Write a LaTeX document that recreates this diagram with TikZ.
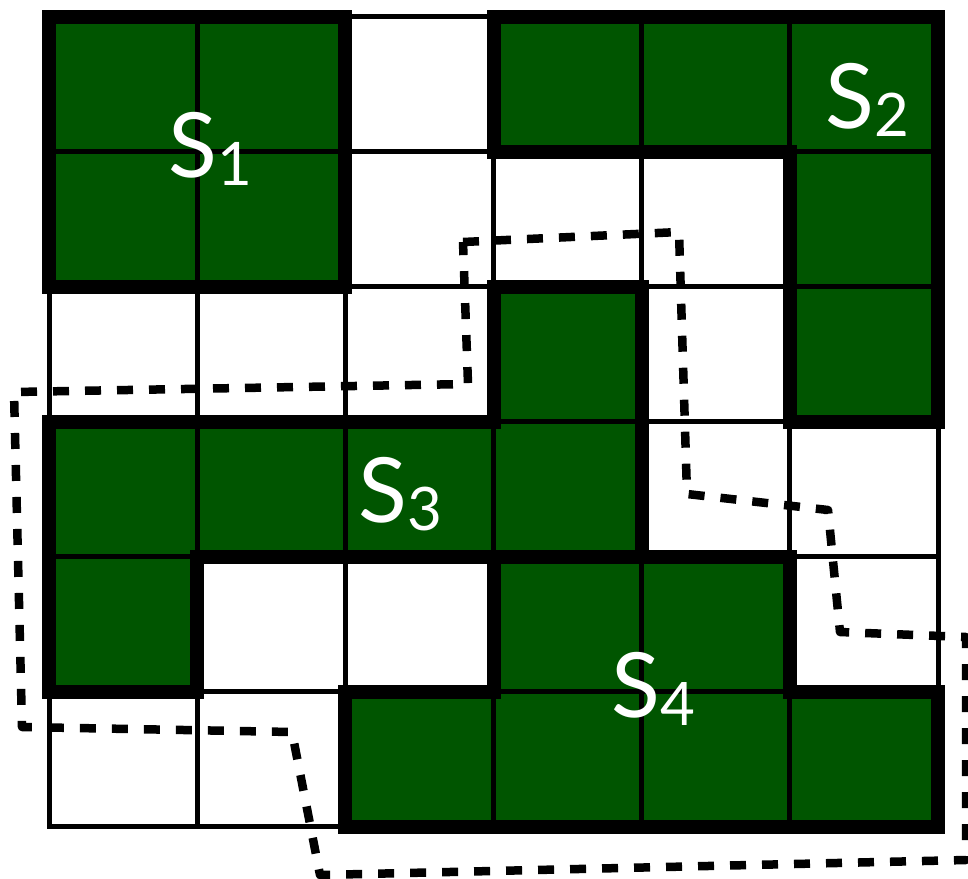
\documentclass[tikz,border=0pt]{standalone}
\usepackage{fontspec}
\setmainfont{Lato}
\definecolor{cellgreen}{RGB}{0,85,0}
\newcommand{\mysub}[1]{\raisebox{-8pt}{\fontsize{60}{60}\selectfont #1}}
\begin{document}
\begin{tikzpicture}[x=1pt,y=-1pt,
  gridline/.style={line width=5pt, line cap=rect},
  region/.style={line width=14pt, line cap=rect, line join=miter},
  cut/.style={line width=8.5pt, dash pattern=on 16pt off 16pt, line join=round},
  lab/.style={text=white, inner sep=0pt, anchor=base west, font=\fontsize{90}{90}\selectfont}]
\useasboundingbox (0,0) rectangle (968,878);
\begin{scope}[shift={(49,16.5)}, x=148.17pt, y=-135.08pt]
  % green cells
  \foreach \c/\r in {0/0,1/0,3/0,4/0,5/0,0/1,1/1,5/1,3/2,5/2,0/3,1/3,2/3,3/3,0/4,3/4,4/4,2/5,3/5,4/5,5/5}
    \fill[cellgreen] (\c,\r) rectangle ++(1,1);
  % thin grid
  \foreach \i in {0,...,6} {
    \draw[gridline] (\i,0) -- (\i,6);
    \draw[gridline] (0,\i) -- (6,\i);
  }
  % region borders
  \draw[region] (0,0) rectangle (2,2);
  \draw[region] (3,0) -- (6,0) -- (6,3) -- (5,3) -- (5,1) -- (3,1) -- cycle;
  \draw[region] (3,2) -- (4,2) -- (4,4) -- (1,4) -- (1,5) -- (0,5) -- (0,3) -- (3,3) -- cycle;
  \draw[region] (3,4) -- (5,4) -- (5,5) -- (6,5) -- (6,6) -- (2,6) -- (2,5) -- (3,5) -- cycle;
\end{scope}
% dashed cut
\draw[cut] (463,242) -- (679,232) -- (687,494) -- (828,510) -- (840,632) -- (966,637)
  -- (966,860) -- (320,875) -- (292,732) -- (22,727) -- (14,392) -- (468,384) -- cycle;
% labels
\node[lab] (s1) at (168,177) {S\mysub{1}};
\node[lab] (s2) at (825,128) {S\mysub{2}};
\node[lab] (s3) at (358,522) {S\mysub{3}};
\node[lab] (s4) at (611,717) {S\mysub{4}};
\end{tikzpicture}
\end{document}
